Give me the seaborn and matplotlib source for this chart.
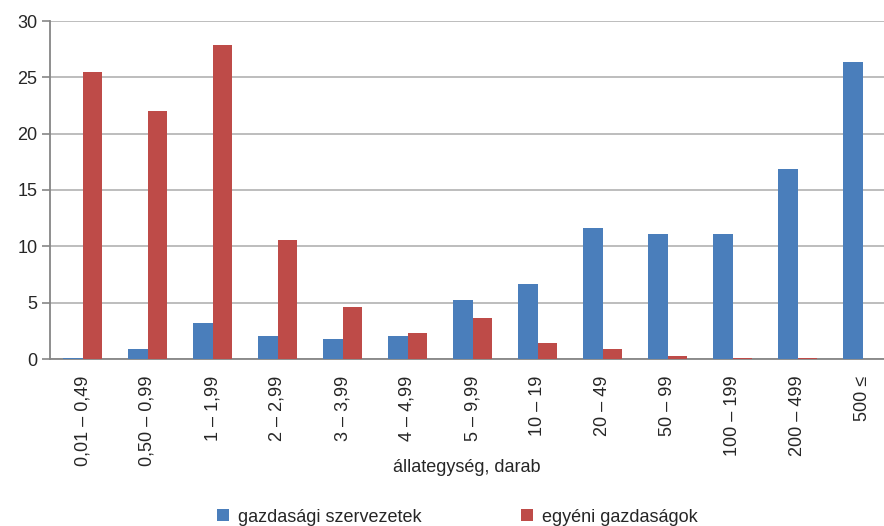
import numpy as np
import pandas as pd
import matplotlib.pyplot as plt
import seaborn as sns

kategoriak = ['0,01 – 0,49', '0,50 – 0,99', '1 – 1,99', '2 – 2,99', '3 – 3,99',
			  '4 – 4,99', '5 – 9,99', '10 – 19', '20 – 49', '50 – 99',
			  '100 – 199', '200 – 499', '500 ≤']
szervezetek = [0.1, 0.9, 3.2, 2.0, 1.8, 2.0, 5.2, 6.7, 11.6, 11.1, 11.1, 16.9, 26.4]
egyeni = [25.5, 22.0, 27.9, 10.6, 4.6, 2.3, 3.6, 1.4, 0.9, 0.3, 0.1, 0.1, 0.0]
sorozatok = ['gazdasági szervezetek', 'egyéni gazdaságok']

df = pd.DataFrame({
	'kat': kategoriak * 2,
	'ertek': szervezetek + egyeni,
	'sorozat': [sorozatok[0]] * len(kategoriak) + [sorozatok[1]] * len(kategoriak),
})

sns.set_style("white")
plt.rcParams['font.family'] = ['Liberation Sans Narrow', 'Liberation Sans', 'DejaVu Sans']

fig = plt.figure(figsize=(8.84, 5.26), dpi=100)
# plot area runs a little past the right edge, like the original
ax = fig.add_axes([50 / 884, 1 - 359 / 526, 845 / 884, 338 / 526])

sns.barplot(data=df, x='kat', y='ertek', hue='sorozat', palette=['#4A7EBB', '#BE4B48'],
			width=0.6, saturation=1, linewidth=0, ax=ax, zorder=3)

ax.set_ylim(0, 30)
ax.set_xlim(-0.5, len(kategoriak) - 0.5)
ax.set_yticks(range(0, 31, 5))
ax.yaxis.grid(True, color='#B8B8B8', linewidth=1.3, zorder=0)
ax.set_axisbelow(True)

for s in ['top', 'right']:
	ax.spines[s].set_visible(False)
for s in ['left', 'bottom']:
	ax.spines[s].set_color('#868686')
	ax.spines[s].set_linewidth(1.3)

ax.set_xticks(np.arange(-0.5, len(kategoriak), 1), minor=True)
ax.tick_params(axis='x', which='minor', length=7, width=1.2, color='#868686', direction='out')
ax.tick_params(axis='x', which='major', length=0, pad=12, labelsize=13, rotation=90)
ax.tick_params(axis='y', length=6, width=1.2, color='#868686', direction='out', labelsize=13, pad=3)
ax.tick_params(bottom=True, left=True)

ax.set_ylabel('')
ax.set_xlabel('állategység, darab', fontsize=13)
ax.xaxis.set_label_coords((467 - 50) / 845, (359 - 467) / 338)
ax.xaxis.label.set_va('center')

ax.legend(loc='center', bbox_to_anchor=((457 - 50) / 845, (359 - 517) / 338), ncol=2,
		  frameon=False, fontsize=13, handlelength=0.67, handleheight=0.67,
		  handletextpad=0.5, columnspacing=5.5, title=None)

plt.savefig('out.png', dpi=100)
plt.close('all')
